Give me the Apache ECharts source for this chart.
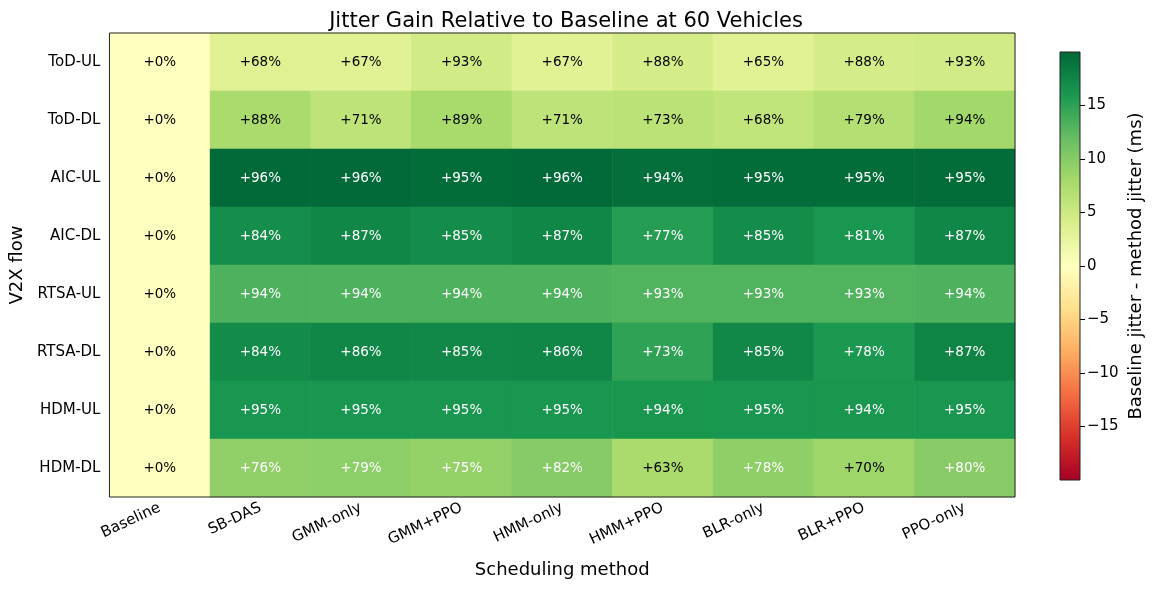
<!DOCTYPE html>
<html>
<head>
<meta charset="utf-8">
<script src="https://cdn.jsdelivr.net/npm/echarts@6/dist/echarts.min.js"></script>
<style>
  html, body { margin: 0; padding: 0; background: #fff; }
  #chart { width: 1155px; height: 589px; }
</style>
</head>
<body>
<div id="chart"></div>
<script>
const methods = ['Baseline', 'SB-DAS', 'GMM-only', 'GMM+PPO', 'HMM-only', 'HMM+PPO', 'BLR-only', 'BLR+PPO', 'PPO-only']
const flows = ['ToD-UL', 'ToD-DL', 'AIC-UL', 'AIC-DL', 'RTSA-UL', 'RTSA-DL', 'HDM-UL', 'HDM-DL']

// baseline jitter - method jitter (ms)
const gainTodUl = [0, 3.4, 3.3, 4.6, 3.3, 4.35, 3.2, 4.35, 4.6]
const gainTodDl = [0, 7.7, 6.2, 7.8, 6.2, 6.4, 5.9, 6.9, 8.2]
const gainAicUl = [0, 19.8, 19.8, 19.6, 19.8, 19.4, 19.6, 19.6, 19.6]
const gainAicDl = [0, 16.8, 17.4, 17.0, 17.4, 15.4, 17.0, 16.2, 17.4]
const gainRtsaUl = [0, 13.3, 13.3, 13.3, 13.3, 13.1, 13.1, 13.1, 13.3]
const gainRtsaDl = [0, 17.1, 17.5, 17.3, 17.5, 14.9, 17.3, 15.9, 17.7]
const gainHdmUl = [0, 16.2, 16.2, 16.2, 16.2, 16.1, 16.2, 16.1, 16.2]
const gainHdmDl = [0, 9.3, 9.6, 9.1, 10.0, 7.7, 9.5, 8.5, 9.8]

// percent labels
const pctTodUl = [0, 68, 67, 93, 67, 88, 65, 88, 93]
const pctTodDl = [0, 88, 71, 89, 71, 73, 68, 79, 94]
const pctAicUl = [0, 96, 96, 95, 96, 94, 95, 95, 95]
const pctAicDl = [0, 84, 87, 85, 87, 77, 85, 81, 87]
const pctRtsaUl = [0, 94, 94, 94, 94, 93, 93, 93, 94]
const pctRtsaDl = [0, 84, 86, 85, 86, 73, 85, 78, 87]
const pctHdmUl = [0, 95, 95, 95, 95, 94, 95, 94, 95]
const pctHdmDl = [0, 76, 79, 75, 82, 63, 78, 70, 80]

const cbTicks = [-15, -10, -5, 0, 5, 10, 15]
const vmax = 20

const gainRows = [gainTodUl, gainTodDl, gainAicUl, gainAicDl, gainRtsaUl, gainRtsaDl, gainHdmUl, gainHdmDl]
const pctRows = [pctTodUl, pctTodDl, pctAicUl, pctAicDl, pctRtsaUl, pctRtsaDl, pctHdmUl, pctHdmDl]

const rdylgn = ['#a50026', '#d73027', '#f46d43', '#fdae61', '#fee08b', '#ffffbf',
                '#d9ef8b', '#a6d96a', '#66bd63', '#1a9850', '#006837']

let cells = []
gainRows.forEach((row, y) => {
    row.forEach((v, x) => {
        cells.push({
            value: [x, y, v],
            label: { color: Math.abs(v) > vmax * 0.44 ? '#fff' : '#000' }
        })
    })
})

const font = 'DejaVu Sans'

let myChart = echarts.init(document.getElementById('chart'), null, { renderer: 'canvas' })

myChart.setOption({
    animation: false,
    textStyle: { fontFamily: font },
    title: {
        text: 'Jitter Gain Relative to Baseline at 60 Vehicles',
        left: 561,
        textAlign: 'center',
        top: 6,
        textStyle: { fontFamily: font, fontSize: 21, fontWeight: 'normal', color: '#000' }
    },
    grid: [
        { left: 108, top: 33, width: 907, height: 464, show: true, z: 5,
          backgroundColor: 'transparent', borderColor: '#222', borderWidth: 1 },
        { left: 1060, top: 52, width: 20, height: 428, show: true, z: 5,
          backgroundColor: 'transparent', borderColor: '#222', borderWidth: 1 }
    ],
    visualMap: {
        type: 'continuous',
        show: false,
        seriesIndex: 0,
        min: -vmax,
        max: vmax,
        inRange: { color: rdylgn }
    },
    xAxis: [
        {
            type: 'category',
            data: methods,
            gridIndex: 0,
            axisLine: { show: false },
            axisTick: { alignWithLabel: true, length: 5, lineStyle: { color: '#000' } },
            axisLabel: { rotate: 25, fontSize: 15, color: '#000', margin: 10, fontFamily: font },
            splitArea: { show: false },
            name: 'Scheduling method',
            nameLocation: 'middle',
            nameGap: 64,
            nameTextStyle: { fontSize: 18, color: '#000', fontFamily: font }
        },
        {
            type: 'category',
            data: ['cb'],
            gridIndex: 1,
            show: false
        }
    ],
    yAxis: [
        {
            type: 'category',
            data: flows,
            inverse: true,
            gridIndex: 0,
            axisLine: { show: false },
            axisTick: { alignWithLabel: true, length: 5, lineStyle: { color: '#000' } },
            axisLabel: { fontSize: 15, color: '#000', margin: 9, fontFamily: font },
            name: 'V2X flow',
            nameLocation: 'middle',
            nameGap: 80,
            nameRotate: 90,
            nameTextStyle: { fontSize: 18, color: '#000', fontFamily: font }
        },
        {
            type: 'value',
            gridIndex: 1,
            position: 'right',
            min: -vmax,
            max: vmax,
            splitLine: { show: false },
            axisLine: { show: false },
            axisTick: { show: true, length: 5, customValues: cbTicks, lineStyle: { color: '#000' } },
            axisLabel: {
                fontSize: 15, color: '#000', margin: 7, fontFamily: font,
                customValues: cbTicks,
                formatter: v => (v < 0 ? '\u2212' + Math.abs(v) : String(v))
            },
            name: 'Baseline jitter - method jitter (ms)',
            nameLocation: 'middle',
            nameGap: 47,
            nameRotate: 90,
            nameTextStyle: { fontSize: 18, color: '#000', fontFamily: font }
        }
    ],
    series: [
        {
            type: 'heatmap',
            xAxisIndex: 0,
            yAxisIndex: 0,
            data: cells,
            label: {
                show: true,
                fontSize: 13.5,
                fontFamily: font,
                formatter: p => '+' + pctRows[p.value[1]][p.value[0]] + '%'
            },
            emphasis: { disabled: true }
        },
        {
            type: 'bar',
            xAxisIndex: 1,
            yAxisIndex: 1,
            data: [vmax],
            barWidth: '100%',
            barGap: '-100%',
            silent: true,
            itemStyle: {
                color: {
                    type: 'linear', x: 0, y: 0, x2: 0, y2: 1,
                    colorStops: rdylgn.slice(5).reverse().map((c, i) => ({ offset: i / 5, color: c }))
                }
            }
        },
        {
            type: 'bar',
            xAxisIndex: 1,
            yAxisIndex: 1,
            data: [-vmax],
            barWidth: '100%',
            barGap: '-100%',
            silent: true,
            itemStyle: {
                color: {
                    type: 'linear', x: 0, y: 0, x2: 0, y2: 1,
                    colorStops: rdylgn.slice(0, 6).reverse().map((c, i) => ({ offset: i / 5, color: c }))
                }
            }
        }
    ]
})

window.addEventListener('resize', () => {
    myChart.resize()
})
</script>
</body>
</html>
